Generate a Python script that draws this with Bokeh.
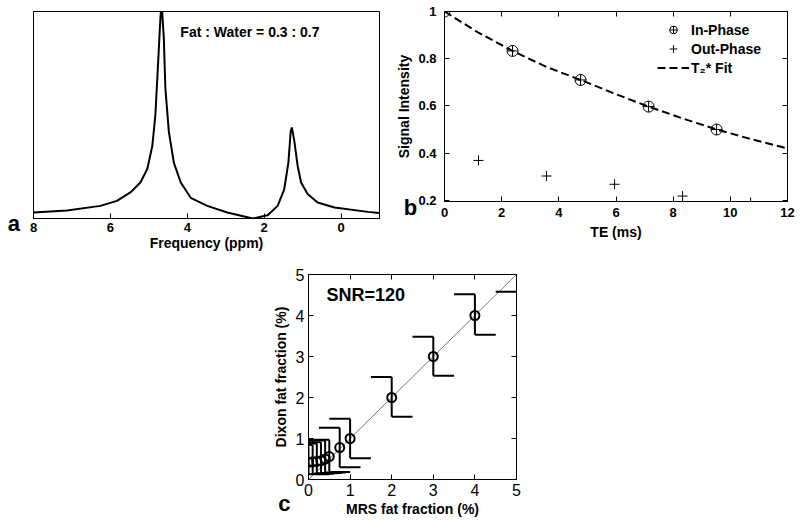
from bokeh.plotting import figure
from bokeh.models import (Range1d, LinearAxis, FixedTicker, Label, Legend,
                          LegendItem, Spacer, ColumnDataSource)
from bokeh.layouts import column, row
from bokeh.embed import file_html
from bokeh.resources import INLINE

# ---------------- data ----------------
# (a) spectrum
ppm = [8.0, 7.13, 6.26, 5.83, 5.48, 5.22, 5.04, 4.91, 4.83, 4.77, 4.71, 4.67,
       4.61, 4.57, 4.48, 4.35, 4.17, 3.91, 3.48, 2.96, 2.3, 1.91, 1.65, 1.48,
       1.37, 1.31, 1.28, 1.22, 1.13, 1.04, 0.87, 0.61, 0.17, -0.7, -1.0]
amp = [0.029, 0.039, 0.061, 0.085, 0.126, 0.174, 0.239, 0.35, 0.5, 0.71, 0.93, 1.05,
       0.87, 0.63, 0.42, 0.27, 0.174, 0.10, 0.061, 0.029, 0.0, 0.016, 0.061, 0.14,
       0.27, 0.42, 0.44, 0.38, 0.255, 0.174, 0.118, 0.077, 0.053, 0.032, 0.026]
freq_ticks = [8, 6, 4, 2, 0]

# (b) signal decay
te_in = [0.0, 2.38, 4.76, 7.14, 9.52]
sig_in = [1.0, 0.833, 0.71, 0.597, 0.5]
te_out = [1.19, 3.57, 5.95, 8.33, 10.71]
sig_out = [0.369, 0.303, 0.268, 0.218, 0.19]
te_fit = [0.0, 1.19, 2.38, 3.57, 4.76, 5.95, 7.14, 8.33, 9.52, 10.7, 12.0]
sig_fit = [1.0, 0.91, 0.833, 0.765, 0.71, 0.652, 0.597, 0.547, 0.5, 0.46, 0.42]
te_ticks = [0, 2, 4, 6, 8, 10, 12]
sig_ticks = [0.2, 0.4, 0.6, 0.8, 1.0]
sig_tick_labels = ["0.2", "0.4", "0.6", "0.8", "1"]

# (c) Dixon vs MRS
mrs = [0, 0.1, 0.2, 0.3, 0.4, 0.5, 0.75, 1, 2, 3, 4]
dixon = [0.42, 0.43, 0.44, 0.46, 0.50, 0.56, 0.78, 1.0, 2.0, 3.0, 4.0]
dixon_hi = [0.80, 0.84, 0.88, 0.91, 0.95, 0.97, 1.26, 1.48, 2.5, 3.48, 4.52]
dixon_lo = [0.13, 0.14, 0.15, 0.16, 0.17, 0.18, 0.30, 0.52, 1.53, 2.53, 3.53]
edge_cap_x = [4.5, 5.0]
edge_cap_y = [4.58, 4.58]
identity = [0, 5]
ff_ticks = [0, 1, 2, 3, 4, 5]

FONT = "Liberation Sans"
CAP = 0.5


def style_axis(ax, size="13px", bold=True, show_labels=True):
    ax.axis_line_color = "black"
    ax.axis_line_width = 1
    ax.major_tick_line_color = "black"
    ax.major_tick_line_width = 1
    ax.major_tick_in = 5
    ax.major_tick_out = 0
    ax.minor_tick_line_color = None
    ax.major_label_text_font = FONT
    ax.major_label_text_font_style = "bold" if bold else "normal"
    ax.axis_label_text_font = FONT
    ax.axis_label_text_font_style = "bold"
    ax.axis_label_text_font_size = "14px"
    ax.axis_label_text_color = "black"
    if show_labels:
        ax.major_label_text_color = "black"
        ax.major_label_text_font_size = size
    else:
        ax.major_label_text_color = None
        ax.major_label_text_font_size = "0px"
        ax.major_label_standoff = 0


def base_fig(**kw):
    p = figure(output_backend="svg", toolbar_location=None, **kw)
    p.xgrid.visible = False
    p.ygrid.visible = False
    p.outline_line_color = "black"
    p.outline_line_alpha = 1
    p.outline_line_width = 1
    p.background_fill_color = "white"
    p.border_fill_color = "white"
    return p


def panel_letter(p, x, y, text):
    # placed in the left side panel so that it is not clipped to the frame
    p.add_layout(Label(x=x, y=y, text=text, text_font=FONT,
                       text_font_style="bold", text_font_size="22px",
                       text_align="center", text_baseline="middle",
                       text_color="black"), "left")


# ---------------- panel a ----------------
pa = base_fig(x_range=Range1d(8, -1), y_range=Range1d(0, 1),
              frame_width=346, frame_height=207,
              min_border_left=33, min_border_right=1,
              min_border_top=6, min_border_bottom=40)
pa.line(ppm, amp, line_color="black", line_width=2)
style_axis(pa.xaxis[0])
pa.xaxis.ticker = FixedTicker(ticks=freq_ticks)
pa.xaxis.axis_label = "Frequency (ppm)"
pa.xaxis.major_label_standoff = 4
pa.xaxis.axis_label_standoff = 0
style_axis(pa.yaxis[0], show_labels=False)
pa.yaxis.ticker = FixedTicker(ticks=[])
pa.add_layout(Label(x=4.18, y=0.9, text="Fat : Water = 0.3 : 0.7",
                    text_font=FONT, text_font_style="bold",
                    text_font_size="14px", text_align="left",
                    text_baseline="middle", text_color="black"))
panel_letter(pa, 8.51, -0.025, "a")

# ---------------- panel b ----------------
pb = base_fig(x_range=Range1d(0, 12), y_range=Range1d(0.195, 1.0),
              frame_width=343, frame_height=190,
              min_border_left=62, min_border_right=8,
              min_border_top=11, min_border_bottom=52)
r_fit = pb.line(te_fit, sig_fit, line_color="black", line_width=2, line_dash="8 4")
r_in = pb.scatter(te_in, sig_in, marker="circle_cross", size=11,
                  line_color="black", fill_color=None, line_width=1)
r_out = pb.scatter(te_out, sig_out, marker="cross", size=10,
                   line_color="black", line_width=1)
style_axis(pb.xaxis[0])
style_axis(pb.yaxis[0])
pb.xaxis.ticker = FixedTicker(ticks=te_ticks)
pb.yaxis.ticker = FixedTicker(ticks=sig_ticks)
pb.yaxis.major_label_overrides = {t: l for t, l in zip(sig_ticks, sig_tick_labels)}
pb.xaxis.axis_label = "TE (ms)"
pb.yaxis.axis_label = "Signal Intensity"
pb.xaxis.major_label_standoff = 6
pb.xaxis.axis_label_standoff = 4
pb.yaxis.major_label_standoff = 8
pb.yaxis.axis_label_standoff = 3
for side in ("above", "right"):
    ax = LinearAxis(ticker=FixedTicker(ticks=te_ticks if side == "above" else sig_ticks))
    style_axis(ax, show_labels=False)
    pb.add_layout(ax, side)
leg = Legend(items=[LegendItem(label="In-Phase", renderers=[r_in]),
                    LegendItem(label="Out-Phase", renderers=[r_out]),
                    LegendItem(label="T\u2082* Fit", renderers=[r_fit])],
             location="top_right", margin=9, padding=9, spacing=0,
             glyph_width=32, glyph_height=19, label_height=19, label_width=87,
             label_standoff=2, border_line_color=None,
             background_fill_alpha=0,
             label_text_font=FONT, label_text_font_style="bold",
             label_text_font_size="14px", label_text_color="black")
pb.add_layout(leg)
panel_letter(pb, -1.19, 0.17, "b")

# ---------------- panel c ----------------
pc = base_fig(x_range=Range1d(0, 5), y_range=Range1d(0, 5),
              frame_width=208, frame_height=205,
              min_border_left=45, min_border_right=10,
              min_border_top=21, min_border_bottom=40)
pc.line(identity, identity, line_color="#7a7a7a", line_width=1)
src = ColumnDataSource(dict(
    x=mrs, y=dixon, hi=dixon_hi, lo=dixon_lo,
    cap_l=[v - CAP for v in mrs], cap_r=[v + CAP for v in mrs]))
pc.segment(x0="x", y0="lo", x1="x", y1="hi", source=src,
           line_color="black", line_width=2)
pc.segment(x0="cap_l", y0="hi", x1="x", y1="hi", source=src,
           line_color="black", line_width=2)
pc.segment(x0="x", y0="lo", x1="cap_r", y1="lo", source=src,
           line_color="black", line_width=2)
pc.line(edge_cap_x, edge_cap_y, line_color="black", line_width=2)
pc.scatter("x", "y", source=src, marker="circle", size=9, fill_color=None,
           line_color="black", line_width=2)
style_axis(pc.xaxis[0], size="16px", bold=False)
style_axis(pc.yaxis[0], size="16px", bold=False)
pc.xaxis.ticker = FixedTicker(ticks=ff_ticks)
pc.yaxis.ticker = FixedTicker(ticks=ff_ticks)
pc.xaxis.axis_label = "MRS fat fraction (%)"
pc.yaxis.axis_label = "Dixon fat fraction (%)"
pc.xaxis.major_label_standoff = 4
pc.xaxis.axis_label_standoff = 2
pc.yaxis.major_label_standoff = 4
pc.yaxis.axis_label_standoff = 4
for side in ("above", "right"):
    ax = LinearAxis(ticker=FixedTicker(ticks=ff_ticks))
    style_axis(ax, show_labels=False)
    pc.add_layout(ax, side)
pc.add_layout(Label(x=0.43, y=4.49, text="SNR=120", text_font=FONT,
                    text_font_style="bold", text_font_size="18px",
                    text_align="left", text_baseline="middle",
                    text_color="black"))
panel_letter(pc, -0.58, -0.585, "c")

layout = column(row(pa, pb), row(Spacer(width=257, height=10), pc))
open("out.html", "w").write(file_html(layout, INLINE))
